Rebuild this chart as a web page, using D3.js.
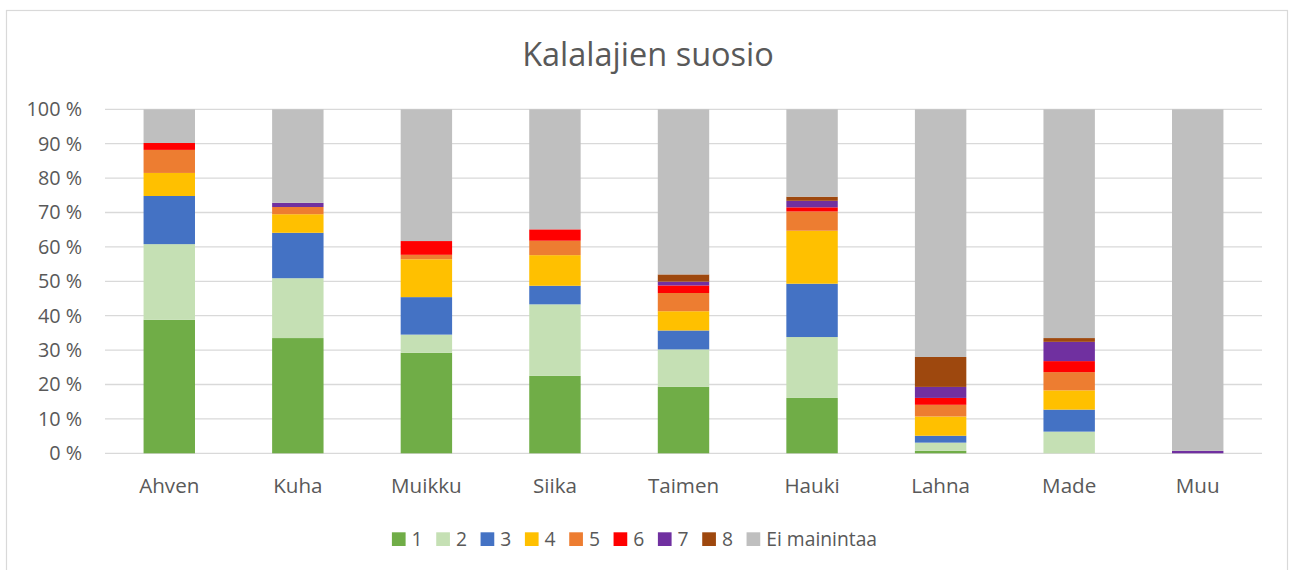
<!DOCTYPE html>
<html>
<head>
<meta charset="utf-8">
<script src="https://cdn.jsdelivr.net/npm/d3@7"></script>
<style>
  html, body { margin: 0; padding: 0; background: #fff; }
  svg { display: block; font-family: "Open Sans", sans-serif; }
  .tick text { fill: #595959; }
</style>
</head>
<body>
<svg id="chart" width="1292" height="570"></svg>
<script>
// Kalalajien suosio: 100 % stacked columns, one series per ranking
const categories = ["Ahven", "Kuha", "Muikku", "Siika", "Taimen", "Hauki", "Lahna", "Made", "Muu"]
const seriesNames = ["1", "2", "3", "4", "5", "6", "7", "8", "Ei mainintaa"]
const seriesColors = ["#70AD47", "#C5E0B4", "#4472C4", "#FFC000", "#ED7D31", "#FF0000", "#7030A0", "#9E480E", "#BFBFBF"]

// shares in percent
const rank1 = [38.8, 33.5, 29.2, 22.5, 19.3, 16.1, 0.7, 0, 0]
const rank2 = [22.0, 17.4, 5.3, 20.8, 10.9, 17.7, 2.4, 6.3, 0]
const rank3 = [14.0, 13.2, 10.9, 5.4, 5.5, 15.5, 2.0, 6.4, 0]
const rank4 = [6.7, 5.4, 11.0, 8.9, 5.6, 15.4, 5.6, 5.6, 0]
const rank5 = [6.7, 2.1, 1.3, 4.2, 5.3, 5.6, 3.4, 5.3, 0]
const rank6 = [2.0, 0, 4.0, 3.3, 2.2, 1.2, 2.0, 3.2, 0]
const rank7 = [0, 1.2, 0, 0, 1.1, 1.9, 3.2, 5.6, 0.7]
const rank8 = [0, 0, 0, 0, 2.1, 1.2, 8.7, 1.1, 0]
const notMentioned = [9.8, 27.2, 38.3, 34.9, 48.0, 25.4, 72.0, 66.5, 99.3]

const yTicks = [0, 0.1, 0.2, 0.3, 0.4, 0.5, 0.6, 0.7, 0.8, 0.9, 1]

const seriesValues = [rank1, rank2, rank3, rank4, rank5, rank6, rank7, rank8, notMentioned]

// rows for d3.stack
const rows = categories.map((c, i) => {
  const row = { name: c }
  seriesNames.forEach((s, j) => (row[s] = seriesValues[j][i]))
  return row
})

const svg = d3.select("#chart")
const plot = { left: 105, right: 1262, top: 109.3, bottom: 453.3 }
const textColor = "#595959"
const gridColor = "#D9D9D9"

// chart area border
svg.append("rect")
  .attr("x", 6.5).attr("y", 10.5)
  .attr("width", 1281).attr("height", 580)
  .attr("fill", "#fff")
  .attr("stroke", gridColor)
  .attr("stroke-width", 1.2)

svg.append("text")
  .attr("x", 648).attr("y", 66)
  .attr("text-anchor", "middle")
  .attr("font-size", 32.5)
  .attr("fill", textColor)
  .text("Kalalajien suosio")

const x = d3.scaleBand()
  .domain(categories)
  .range([plot.left, plot.right])
  .paddingInner(0.6)
  .paddingOuter(0.3)

const y = d3.scaleLinear().domain([0, 1]).range([plot.bottom, plot.top])

// gridlines
svg.append("g")
  .selectAll("line")
  .data(yTicks)
  .join("line")
  .attr("x1", plot.left).attr("x2", plot.right)
  .attr("y1", (d) => y(d)).attr("y2", (d) => y(d))
  .attr("stroke", gridColor)
  .attr("stroke-width", 1.3)

const stack = d3.stack().keys(seriesNames).offset(d3.stackOffsetExpand)
const layers = stack(rows)

svg.append("g")
  .selectAll("g")
  .data(layers)
  .join("g")
  .attr("fill", (d, i) => seriesColors[i])
  .selectAll("rect")
  .data((d) => d)
  .join("rect")
  .attr("x", (d) => x(d.data.name))
  .attr("width", x.bandwidth())
  .attr("y", (d) => y(d[1]))
  .attr("height", (d) => Math.max(0, y(d[0]) - y(d[1])))

// y axis labels
const yAxis = d3.axisLeft(y)
  .tickValues(yTicks)
  .tickSize(0)
  .tickPadding(0)
  .tickFormat((d) => Math.round(d * 100) + " %")
svg.append("g")
  .attr("transform", `translate(82,0)`)
  .call(yAxis)
  .call((g) => g.select(".domain").remove())
  .selectAll("text")
  .attr("font-size", 19.8)
  .attr("font-family", "'Open Sans', sans-serif")

// x axis labels
const xAxis = d3.axisBottom(x).tickSize(0).tickPadding(0)
svg.append("g")
  .attr("transform", `translate(0,${plot.bottom})`)
  .call(xAxis)
  .call((g) => g.select(".domain").remove())
  .selectAll("text")
  .attr("dy", null)
  .attr("y", 39.5)
  .attr("font-size", 20.6)
  .attr("font-family", "'Open Sans', sans-serif")

// legend
const legend = svg.append("g").attr("font-size", 19.3)
let lx = 0
const swatch = 13.7
const itemGap = 13.6
seriesNames.forEach((name, i) => {
  const item = legend.append("g").attr("transform", `translate(${lx},0)`)
  item.append("rect")
    .attr("x", 0).attr("y", -swatch)
    .attr("width", swatch).attr("height", swatch)
    .attr("fill", seriesColors[i])
  const t = item.append("text")
    .attr("x", swatch + 6)
    .attr("y", 0)
    .attr("fill", textColor)
    .text(name)
  lx += swatch + 6 + t.node().getComputedTextLength() + itemGap
})
const legendWidth = lx - itemGap
legend.attr("transform", `translate(${634.5 - legendWidth / 2},546)`)
</script>
</body>
</html>
